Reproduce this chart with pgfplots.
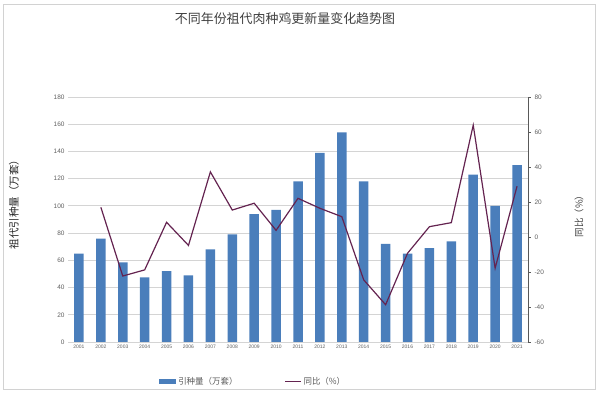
\documentclass[border=0pt]{standalone}
\usepackage{fontspec}
\setmainfont{Liberation Sans}
\newfontfamily\cjk{Noto Sans CJK SC}
\usepackage{pgfplots}
\pgfplotsset{compat=1.18}
\definecolor{barblue}{RGB}{74,126,187}
\definecolor{linepurple}{RGB}{100,35,80}
\definecolor{gridgray}{RGB}{212,212,212}
\definecolor{ticktext}{RGB}{95,95,95}
\begin{document}
\begin{tikzpicture}
\path (0bp,0bp) rectangle (600bp,393bp);
\draw[gray!35, line width=0.8bp] (3bp,4bp) rectangle (595bp,389bp);
\node[font=\cjk\fontsize{13}{14}\selectfont, text=black!75] at (285bp,374bp) {不同年份祖代肉种鸡更新量变化趋势图};
\node[rotate=90, font=\cjk\fontsize{10.5}{11}\selectfont, text=black!85] at (14bp,191bp) {祖代引种量（万套）};
\node[rotate=90, font=\cjk\fontsize{9.5}{10}\selectfont, text=black!75] at (579bp,179bp) {同比（\%）};
\begin{axis}[
  at={(68bp,51bp)}, anchor=south west,
  scale only axis, width=460bp, height=245bp,
  xmin=2000.5, xmax=2021.5, ymin=0, ymax=180,
  ytick={0,20,...,180}, xtick={2001,...,2021},
  axis x line*=bottom, axis y line*=left,
  y axis line style={draw=none},
  x axis line style={gridgray, line width=0.8bp},
  ymajorgrids, grid style={gridgray, line width=0.8bp},
  y tick style={draw=none},
  x tick style={gridgray},
  major tick length=2bp,
  /pgf/number format/assume math mode=true,
  xticklabel style={font=\fontsize{5}{6}\selectfont, text=ticktext, /pgf/number format/1000 sep={}},
  yticklabel style={font=\fontsize{6.5}{7}\selectfont, text=ticktext},
  legend style={at={(0.198,-0.163)}, anchor=west, draw=none, fill=none, inner sep=0pt,
    legend columns=2, font=\cjk\fontsize{8.5}{9}\selectfont, text=black!65,
    /tikz/every even column/.append style={column sep=45bp}},
]
\addplot[ybar, bar width=9.5bp, bar shift=0pt, fill=barblue, draw=none,
  legend image code/.code={\fill[barblue] (0bp,-2.5bp) rectangle (17bp,2.5bp);}]
  coordinates {
  (2001,65) (2002,76) (2003,58.5) (2004,47.5) (2005,52) (2006,49) (2007,68)
  (2008,79) (2009,94) (2010,97) (2011,118) (2012,139) (2013,154) (2014,118)
  (2015,72) (2016,65) (2017,69) (2018,74) (2019,123) (2020,100) (2021,130)};
\addlegendentry{引种量（万套）}
\addlegendimage{legend image code/.code={\draw[linepurple, line width=1bp] (0bp,0bp) -- (16bp,0bp);}}
\addlegendentry{同比（\%）}
\end{axis}
\begin{axis}[
  at={(68bp,51bp)}, anchor=south west,
  scale only axis, width=460bp, height=245bp,
  xmin=2000.5, xmax=2021.5, ymin=-60, ymax=80,
  ytick={-60,-40,...,80},
  axis x line=none, axis y line*=right,
  y axis line style={black!65, line width=0.8bp},
  y tick style={black!65, line width=0.8bp},
  tick align=outside, major tick length=3bp,
  /pgf/number format/assume math mode=true,
  yticklabel style={font=\fontsize{6.5}{7}\selectfont, text=ticktext},
]
\addplot[linepurple, line width=1.2bp, mark=none] coordinates {
  (2002,17) (2003,-22.3) (2004,-18.8) (2005,8.4) (2006,-4.8) (2007,37.2)
  (2008,15.4) (2009,19.3) (2010,3.8) (2011,22.1) (2012,16.4) (2013,11.6)
  (2014,-24.5) (2015,-38.7) (2016,-9.3) (2017,5.9) (2018,8.2) (2019,63.9)
  (2020,-17.8) (2021,29)};
\end{axis}
\end{tikzpicture}
\end{document}
